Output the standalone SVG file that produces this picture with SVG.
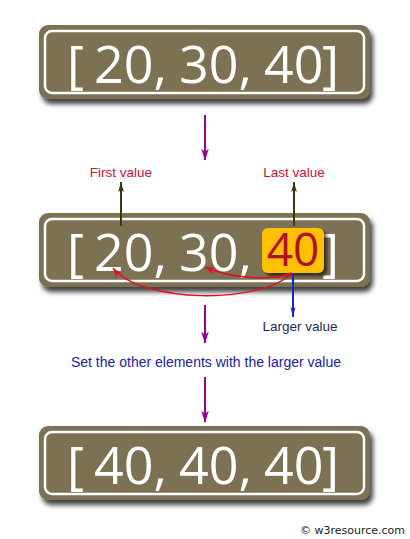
<svg xmlns="http://www.w3.org/2000/svg" width="410" height="539" viewBox="0 0 410 539">
<defs>
<style>
.box{fill:#7D7152}
.inner{fill:none;stroke:#fff;stroke-width:2.5}
.big{font-family:"Open Sans","DejaVu Sans",sans-serif;font-size:52px;fill:#fff}
.lbl{font-family:"Liberation Sans",Arial,sans-serif;font-size:13.5px}
.purple{stroke:#990099;stroke-width:2;fill:none;marker-end:url(#mp)}
.olive{stroke:#3A3810;stroke-width:2;fill:none;marker-end:url(#mo)}
.red{stroke:#DD1122;stroke-width:1.5;fill:none;marker-end:url(#mr)}
.blue{stroke:#1A22CC;stroke-width:2;fill:none;marker-end:url(#mb)}
</style>
<filter id="sh" x="-10%" y="-20%" width="130%" height="160%">
<feDropShadow dx="3" dy="5" stdDeviation="2.5" flood-color="#000" flood-opacity="0.75"/>
</filter>
<filter id="sh2" x="-20%" y="-20%" width="150%" height="150%">
<feDropShadow dx="3" dy="3" stdDeviation="1.5" flood-color="#000" flood-opacity="0.6"/>
</filter>
<marker id="mp" markerUnits="userSpaceOnUse" markerWidth="12" markerHeight="18" refX="15" refY="5" viewBox="0 0 16 10" orient="auto">
<path d="M0,0 L16,5 L0,10 L4,5 z" fill="#990099"/>
</marker>
<marker id="mo" markerUnits="userSpaceOnUse" markerWidth="10" markerHeight="14" refX="14" refY="4" viewBox="0 0 14 8" orient="auto">
<path d="M0,0 L14,4 L0,8 L3,4 z" fill="#3A3810"/>
</marker>
<marker id="mr" markerUnits="userSpaceOnUse" markerWidth="10" markerHeight="10" refX="10" refY="3.5" viewBox="0 0 10 7" orient="auto">
<path d="M0,0 L10,3.5 L0,7 L2.5,3.5 z" fill="#DD1122"/>
</marker>
<marker id="mb" markerUnits="userSpaceOnUse" markerWidth="10" markerHeight="16" refX="16" refY="4" viewBox="0 0 16 8" orient="auto">
<path d="M0,0 L16,4 L0,8 L4,4 z" fill="#1A22CC"/>
</marker>
</defs>

<g id="node-input">
<rect class="box" x="39" y="25" width="331" height="74" rx="9" filter="url(#sh)"/>
<rect class="inner" x="45" y="31" width="319" height="62" rx="7"/>
<text class="big" y="83"><tspan x="67">[</tspan><tspan x="94">20,</tspan><tspan x="179">30,</tspan><tspan x="264">40</tspan><tspan x="322">]</tspan></text>
</g>

<g id="node-middle">
<rect class="box" x="39" y="213" width="331" height="74" rx="9" filter="url(#sh)"/>
<rect class="inner" x="45" y="219" width="319" height="62" rx="7"/>
<text class="big" y="271"><tspan x="67">[</tspan><tspan x="94">20,</tspan><tspan x="179">30,</tspan><tspan x="322">]</tspan></text>
<rect x="262" y="228" width="62" height="45" rx="6" fill="#FFC000" filter="url(#sh2)"/>
<text x="293" y="266" text-anchor="middle" style="font-family:'Open Sans','DejaVu Sans',sans-serif;font-size:46px;fill:#B0102A">40</text>
</g>

<g id="node-output">
<rect class="box" x="39" y="426" width="331" height="74" rx="9" filter="url(#sh)"/>
<rect class="inner" x="45" y="432" width="319" height="62" rx="7"/>
<text class="big" y="484"><tspan x="67">[</tspan><tspan x="94">40,</tspan><tspan x="179">40,</tspan><tspan x="264">40</tspan><tspan x="322">]</tspan></text>
</g>

<g id="connectors">
<line class="purple" x1="205" y1="115" x2="205" y2="160"/>
<line class="purple" x1="205" y1="305" x2="205" y2="343"/>
<line class="purple" x1="205" y1="377" x2="205" y2="422"/>
<line class="olive" x1="121" y1="226" x2="121" y2="182"/>
<line class="olive" x1="294" y1="226" x2="294" y2="182"/>
<path class="red" d="M292,273 C262,304 142,304 113,268"/>
<path class="red" d="M292,273 C270,281 232,279 205,267"/>
<line class="blue" x1="293" y1="274" x2="293" y2="317"/>
</g>

<g id="labels">
<text class="lbl" x="121" y="177" text-anchor="middle" fill="#CC1133">First value</text>
<text class="lbl" x="294" y="177" text-anchor="middle" fill="#CC1133">Last value</text>
<text class="lbl" x="300" y="331" text-anchor="middle" fill="#1A2A5A">Larger value</text>
<text class="lbl" x="206" y="367" text-anchor="middle" fill="#2020AA" style="font-size:14px">Set the other elements with the larger value</text>
<text x="405" y="534" text-anchor="end" style="font-family:'DejaVu Sans',sans-serif;font-size:11px;fill:#222">© w3resource.com</text>
</g>
</svg>
